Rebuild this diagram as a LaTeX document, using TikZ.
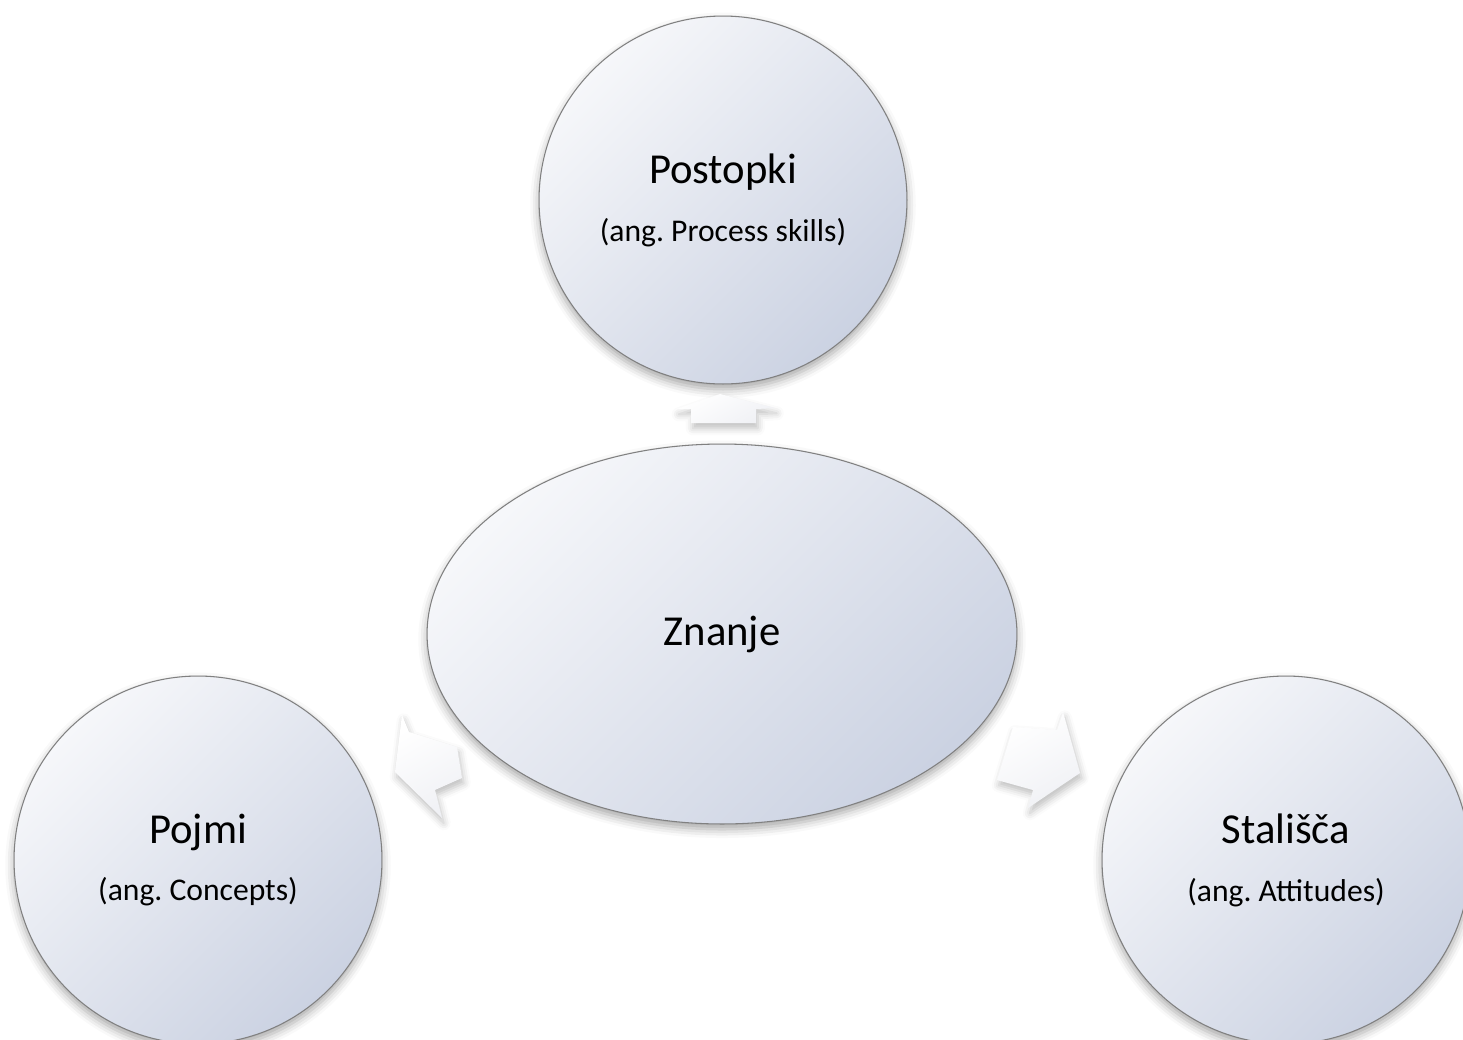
\documentclass[tikz,border=0pt]{standalone}
\usepackage{fontspec}
\setmainfont{Carlito}
\usepackage{tikz}
\usetikzlibrary{shapes}
\usetikzlibrary{shadows.blur}
\frenchspacing
\definecolor{bublight}{HTML}{F6F7FA}
\definecolor{bubdark}{HTML}{CBD2E2}
\definecolor{bubline}{HTML}{808080}
\definecolor{arrdark}{HTML}{F0F1F5}
\tikzset{
    mynode/.style = {circle, draw=bubline, line width=0.6pt, minimum size=7.36cm, inner sep=0pt, align=center,
        top color=bublight, bottom color=bubdark, shading angle=45,
        font=\fontsize{18}{22}\selectfont, text=black,
        blur shadow={shadow xshift=0pt, shadow yshift=-3pt, shadow blur radius=5pt, shadow opacity=35}},
    mynodee/.style = {mynode, ellipse, minimum width=11.8cm, minimum height=7.6cm},
    bigtext/.style = {font=\fontsize{24.3}{28}\selectfont},
    arrowb/.style = {draw=none, top color=white, bottom color=arrdark, shading angle=30,
        blur shadow={shadow xshift=1pt, shadow yshift=-3pt, shadow blur radius=4pt, shadow opacity=25}}
}

\begin{document}
\begin{tikzpicture}[x=0.02cm, y=-0.02cm]
  \useasboundingbox (0,0) rectangle (1463,1039);

  % the three outer circles
  \node[mynode] (postopki) at (723,200) {{\fontsize{24.3}{28}\selectfont Postopki}\\[11pt](ang. Process skills)};
  \node[mynode] (pojmi) at (198,860) {{\fontsize{24.3}{28}\selectfont Pojmi}\\[11pt](ang. Concepts)};
  \node[mynode] (stalisca) at (1286,860) {{\fontsize{24.3}{28}\selectfont Stališča}\\[11pt](ang. Attitudes)};

  % block arrows from the centre
  \draw[arrowb] (677,409) -- (720,394) -- (775,408) -- (756,409) -- (756,423) -- (691,423) -- (691,409) -- cycle;
  \draw[arrowb] (395,772) -- (402,715) -- (409,732) -- (457,747) -- (462,778) -- (435,790) -- (442,818) -- cycle;
  \draw[arrowb] (1013,727) -- (1057,730) -- (1063,712) -- (1080,773) -- (1028,808) -- (1033,790) -- (997,780) -- cycle;

  % centre
  \node[mynodee, bigtext] (znanje) at (722,634) {Znanje};

\end{tikzpicture}
\end{document}
